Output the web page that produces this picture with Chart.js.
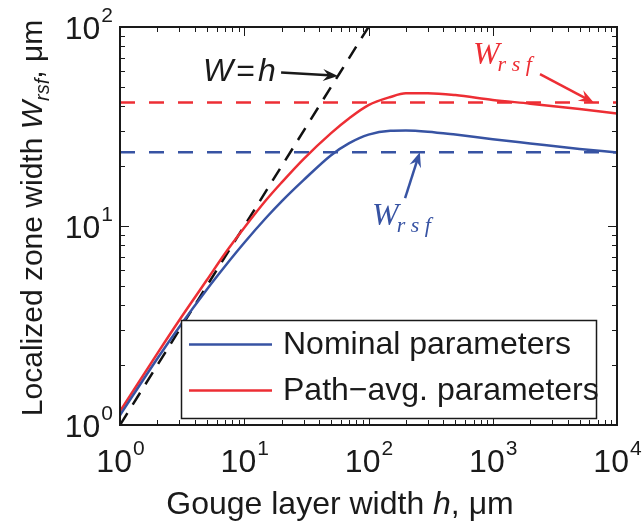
<!DOCTYPE html>
<html>

<head>
    <title>Localized zone width</title>
    <script src="https://cdn.jsdelivr.net/npm/chart.js"></script>
    <style>
        body { margin: 0; background: #fff; }
    </style>
</head>

<body>
    <canvas id="wrsfChart" width="644" height="527"></canvas>

    <script>
        // gouge layer width h (um) and localized zone width W (um)
        const hVals = [1, 2, 3, 5, 7, 10, 15, 20, 30, 50, 70, 100, 150, 200, 300, 500, 1000, 2000, 5000, 10000];
        const wNominal = [1.12, 2.16, 3.11, 4.8, 6.28, 8.24, 11.0, 13.3, 17.0, 22.7, 26.1, 28.8, 30.1, 30.2, 29.8, 28.8, 27.3, 26.0, 24.4, 23.4];
        const wPathAvg = [1.17, 2.29, 3.36, 5.35, 7.28, 9.8, 13.5, 16.55, 21.7, 29.3, 34.8, 40.5, 44.5, 46.4, 46.5, 45.5, 43.0, 41.2, 38.7, 36.8];
        const wrsfNominal = 23.5;
        const wrsfPathAvg = 41.7;
        const seriesLabels = ['Nominal parameters', 'Path\u2212avg. parameters'];
        const xTickExps = [0, 1, 2, 3, 4];
        const yTickExps = [0, 1, 2];

        const blue = 'rgb(55, 83, 163)';
        const red = 'rgb(237, 46, 52)';
        const ink = '#1a1a1a';
        const sans = '"Liberation Sans", Arial, sans-serif';
        const serif = '"Liberation Serif", "DejaVu Serif", serif';

        const toPts = ys => hVals.map((h, i) => ({ x: h, y: ys[i] }));
        const hLine = w => [{ x: 1, y: w }, { x: 10000, y: w }];

        function superTen(ctx, exp, x, y, align) {
            ctx.font = '32px ' + sans;
            const wBase = ctx.measureText('10').width;
            ctx.font = '21px ' + sans;
            const wExp = ctx.measureText(String(exp)).width;
            let left = align === 'center' ? x - (wBase + wExp) / 2 : x - wBase - wExp;
            ctx.textAlign = 'left';
            ctx.textBaseline = 'alphabetic';
            ctx.font = '32px ' + sans;
            ctx.fillText('10', left, y);
            ctx.font = '21px ' + sans;
            ctx.fillText(String(exp), left + wBase + 1, y - 17);
        }

        function arrow(ctx, x0, y0, x1, y1, color) {
            const ang = Math.atan2(y1 - y0, x1 - x0);
            const len = 15, half = 6;
            ctx.save();
            ctx.strokeStyle = color;
            ctx.fillStyle = color;
            ctx.lineWidth = 2.5;
            ctx.beginPath();
            ctx.moveTo(x0, y0);
            ctx.lineTo(x1 - Math.cos(ang) * len * 0.6, y1 - Math.sin(ang) * len * 0.6);
            ctx.stroke();
            ctx.translate(x1, y1);
            ctx.rotate(ang);
            ctx.beginPath();
            ctx.moveTo(0, 0);
            ctx.lineTo(-len, -half);
            ctx.lineTo(-len * 0.65, 0);
            ctx.lineTo(-len, half);
            ctx.closePath();
            ctx.fill();
            ctx.restore();
        }

        function wrsfLabel(ctx, x, y, color) {
            ctx.fillStyle = color;
            ctx.textAlign = 'left';
            ctx.textBaseline = 'alphabetic';
            ctx.font = 'italic 32px ' + serif;
            ctx.fillText('W', x, y);
            const w = ctx.measureText('W').width;
            ctx.font = 'italic 22px ' + serif;
            ctx.fillText('r s f', x + w - 2, y + 7);
        }

        const framePlugin = {
            id: 'frame',
            afterDraw(chart) {
                const ctx = chart.ctx;
                const xs = chart.scales.x, ys = chart.scales.y;
                const a = chart.chartArea;
                ctx.save();

                // inward tick marks on all four sides
                ctx.strokeStyle = ink;
                ctx.lineWidth = 1;
                ctx.beginPath();
                for (let e = 0; e < 4; e++) {
                    for (let m = 1; m < 10; m++) {
                        const px = Math.round(xs.getPixelForValue(m * Math.pow(10, e))) + 0.5;
                        const len = m === 1 ? 9 : 5;
                        ctx.moveTo(px, a.bottom); ctx.lineTo(px, a.bottom - len);
                        ctx.moveTo(px, a.top); ctx.lineTo(px, a.top + len);
                    }
                }
                for (let e = 0; e < 2; e++) {
                    for (let m = 1; m < 10; m++) {
                        const py = Math.round(ys.getPixelForValue(m * Math.pow(10, e))) + 0.5;
                        const len = m === 1 ? 9 : 5;
                        ctx.moveTo(a.left, py); ctx.lineTo(a.left + len, py);
                        ctx.moveTo(a.right, py); ctx.lineTo(a.right - len, py);
                    }
                }
                ctx.stroke();

                ctx.lineWidth = 2;
                ctx.strokeRect(a.left, a.top, a.right - a.left, a.bottom - a.top);

                // tick labels
                ctx.fillStyle = ink;
                xTickExps.forEach(e => superTen(ctx, e, xs.getPixelForValue(Math.pow(10, e)), 472, 'center'));
                yTickExps.forEach(e => superTen(ctx, e, 112, ys.getPixelForValue(Math.pow(10, e)) + 12, 'right'));

                // axis titles
                ctx.textAlign = 'left';
                const xParts = [['Gouge layer width ', ''], ['h', 'italic '], [', \u03bcm', '']];
                let total = 0;
                xParts.forEach(p => { ctx.font = p[1] + '32px ' + sans; total += ctx.measureText(p[0]).width; });
                let cx = 340 - total / 2;
                xParts.forEach(p => {
                    ctx.font = p[1] + '32px ' + sans;
                    ctx.fillText(p[0], cx, 514);
                    cx += ctx.measureText(p[0]).width;
                });

                ctx.save();
                ctx.translate(42, 218);
                ctx.rotate(-Math.PI / 2);
                const yParts = [['Localized zone width ', '', 30, 0], ['W', 'italic ', 30, 0], ['rsf', 'italic ', 20, 7], [', \u03bcm', '', 30, 0]];
                total = 0;
                yParts.forEach(p => { ctx.font = p[1] + p[2] + 'px ' + sans; total += ctx.measureText(p[0]).width; });
                cx = -total / 2;
                yParts.forEach(p => {
                    ctx.font = p[1] + p[2] + 'px ' + sans;
                    ctx.fillText(p[0], cx, p[3]);
                    cx += ctx.measureText(p[0]).width;
                });
                ctx.restore();

                // legend
                const lg = { left: 181.5, top: 320.5, right: 596.5, bottom: 418.5 };
                ctx.fillStyle = '#fff';
                ctx.fillRect(lg.left, lg.top, lg.right - lg.left, lg.bottom - lg.top);
                ctx.strokeStyle = ink;
                ctx.lineWidth = 1.5;
                ctx.strokeRect(lg.left, lg.top, lg.right - lg.left, lg.bottom - lg.top);
                const rows = [344.5, 390.5];
                [0, 1].forEach(i => {
                    const ds = chart.data.datasets[i];
                    ctx.strokeStyle = ds.borderColor;
                    ctx.lineWidth = 2.5;
                    ctx.beginPath();
                    ctx.moveTo(189, rows[i]);
                    ctx.lineTo(272, rows[i]);
                    ctx.stroke();
                    ctx.fillStyle = ink;
                    ctx.font = '32px ' + sans;
                    ctx.textBaseline = 'middle';
                    ctx.fillText(ds.label, 283, rows[i] + 1);
                });
                ctx.textBaseline = 'alphabetic';

                // annotations, anchored in data coordinates
                const P = (h, w) => [xs.getPixelForValue(h), ys.getPixelForValue(w)];
                ctx.fillStyle = ink;
                let [tx, ty] = P(4.66, 53.5);
                ctx.font = 'italic 32px ' + sans;
                ctx.fillText('W', tx, ty);
                tx += ctx.measureText('W').width + 3;
                ctx.font = '32px ' + sans;
                ctx.fillText('=', tx, ty);
                tx += ctx.measureText('=').width + 3;
                ctx.font = 'italic 32px ' + sans;
                ctx.fillText('h', tx, ty);
                arrow(ctx, ...P(19.8, 59.1), ...P(56.8, 56.8), ink);

                wrsfLabel(ctx, ...P(693, 65.2), red);
                arrow(ctx, ...P(2400, 58.0), ...P(6500, wrsfPathAvg), red);

                wrsfLabel(ctx, ...P(106.7, 10.1), blue);
                arrow(ctx, ...P(197, 13.8), ...P(259, wrsfNominal), blue);

                ctx.restore();
            }
        };

        const ctx = document.getElementById('wrsfChart').getContext('2d');
        new Chart(ctx, {
            type: 'line',
            data: {
                datasets: [
                    { label: seriesLabels[0], data: toPts(wNominal), borderColor: blue, borderWidth: 2.5 },
                    { label: seriesLabels[1], data: toPts(wPathAvg), borderColor: red, borderWidth: 2.5 },
                    { label: 'W_rsf nominal', data: hLine(wrsfNominal), borderColor: blue, borderWidth: 2.5, borderDash: [15, 14] },
                    { label: 'W_rsf path-avg', data: hLine(wrsfPathAvg), borderColor: red, borderWidth: 2.5, borderDash: [15, 14] },
                    { label: 'W = h', data: [{ x: 1, y: 1 }, { x: 100, y: 100 }], borderColor: '#111', borderWidth: 2.5, borderDash: [14, 10] }
                ]
            },
            options: {
                responsive: false,
                animation: false,
                layout: { padding: { left: 120, right: 27, top: 27, bottom: 102 } },
                elements: {
                    point: { radius: 0 },
                    line: { cubicInterpolationMode: 'monotone', fill: false }
                },
                scales: {
                    x: { type: 'logarithmic', min: 1, max: 10000, display: false },
                    y: { type: 'logarithmic', min: 1, max: 100, display: false }
                },
                plugins: {
                    legend: { display: false },
                    tooltip: { enabled: false }
                }
            },
            plugins: [framePlugin]
        });
    </script>
</body>

</html>
